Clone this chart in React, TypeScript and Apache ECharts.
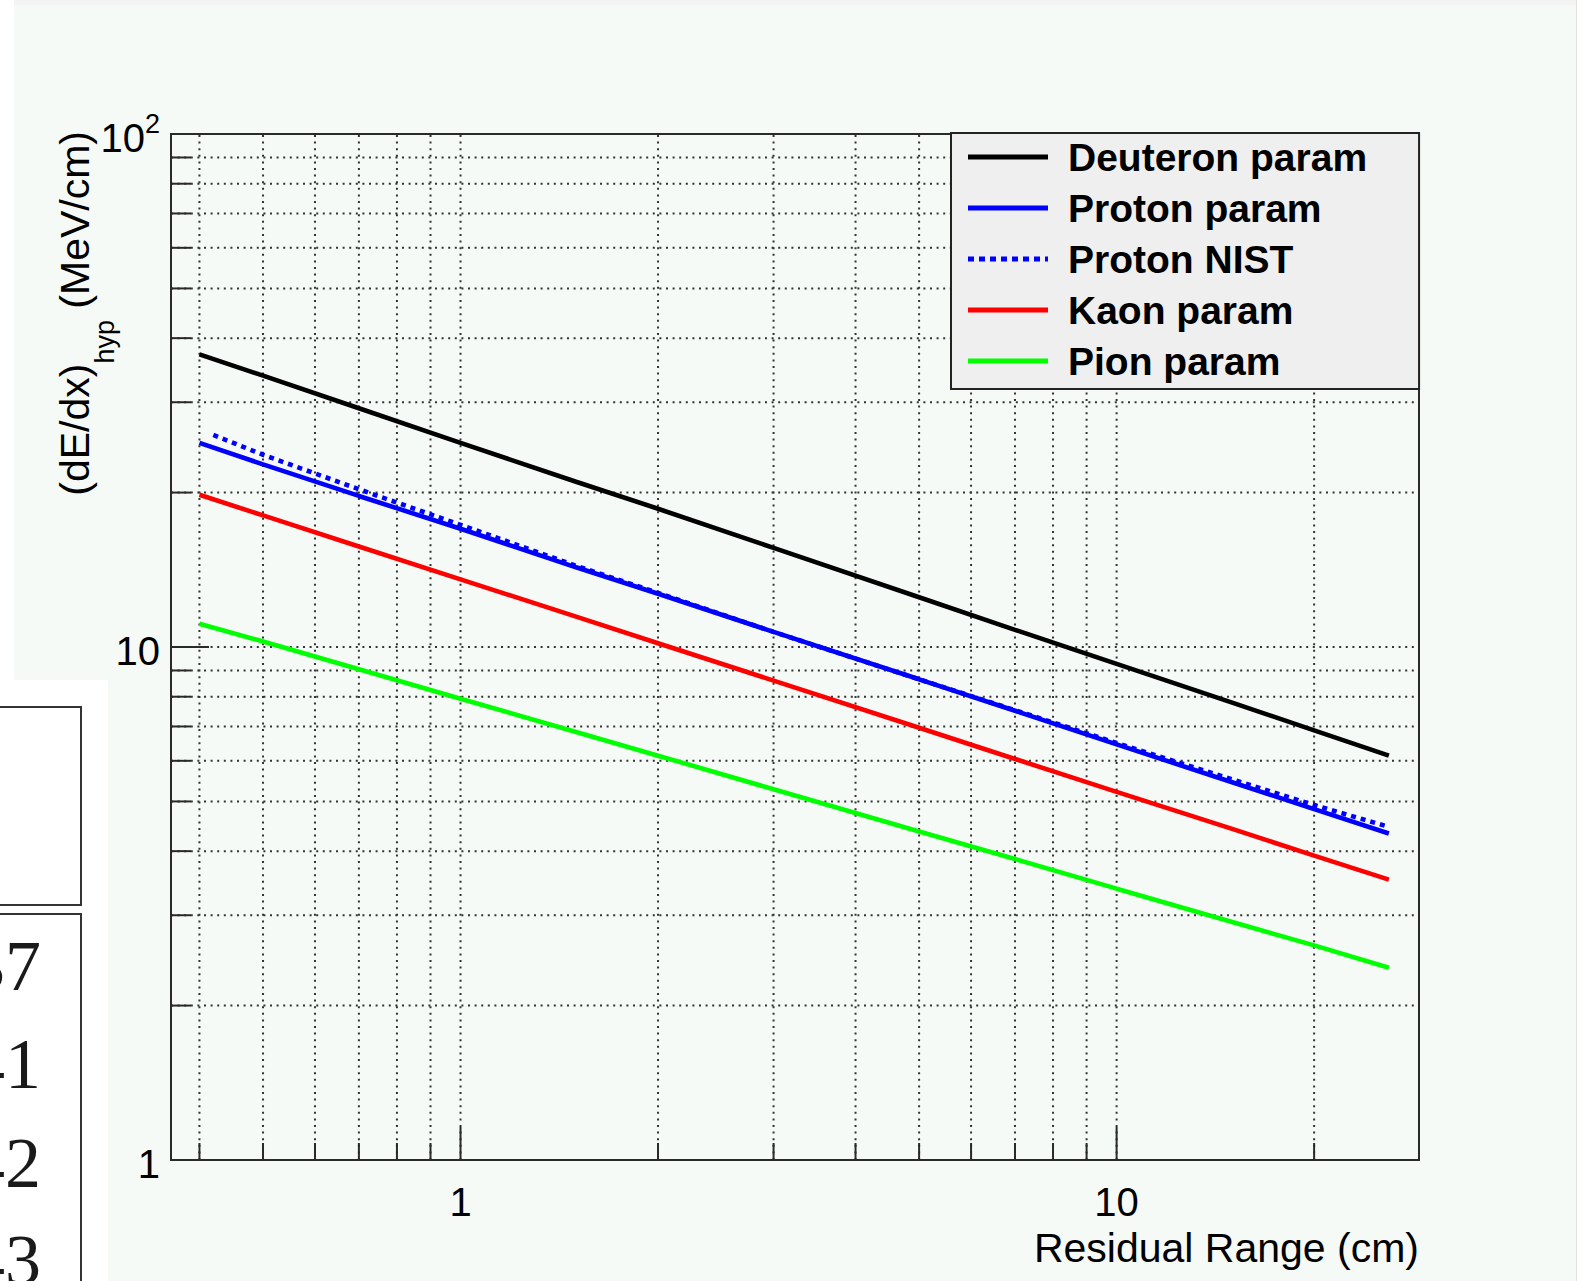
import React, { useEffect, useRef } from 'react';
import * as echarts from 'echarts';

const W = 1577;
const H = 1281;
const X_MIN = 0.362;
const X_MAX = 28.9;
const Y_MIN = 1;
const Y_MAX = 100;

// Residual range (cm) sample points
const rangeCm = [0.4, 0.5, 0.7, 1, 1.5, 2, 3, 5, 7, 10, 15, 20, 26];
const nistRangeCm = [0.42, 0.5, 0.7, 1, 1.5, 2, 3, 5, 7, 10, 15, 20, 26];

// (dE/dx)_hyp in MeV/cm
const deuteronParam = [37.2, 33.8, 29.2, 25.0, 21.0, 18.6, 15.6, 12.5, 10.8, 9.27, 7.79, 6.88, 6.14];
const protonParam = [25.0, 22.7, 19.7, 17.0, 14.3, 12.7, 10.7, 8.65, 7.51, 6.46, 5.45, 4.83, 4.33];
const protonNist = [25.9, 23.7, 20.3, 17.3, 14.4, 12.75, 10.7, 8.65, 7.53, 6.5, 5.52, 4.92, 4.46];
const kaonParam = [19.8, 18.05, 15.7, 13.55, 11.46, 10.17, 8.6, 6.96, 6.05, 5.22, 4.42, 3.92, 3.52];
const pionParam = [11.1, 10.25, 9.05, 7.93, 6.83, 6.14, 5.28, 4.37, 3.86, 3.38, 2.91, 2.62, 2.37];

const seriesNames = ['Deuteron param', 'Proton param', 'Proton NIST', 'Kaon param', 'Pion param'];

// grid / tick values
const xGridValues = [0.4, 0.5, 0.6, 0.7, 0.8, 0.9, 1, 2, 3, 4, 5, 6, 7, 8, 9, 10, 20];
const yGridValues = [2, 3, 4, 5, 6, 7, 8, 9, 10, 20, 30, 40, 50, 60, 70, 80, 90];
const xMajorValues = [1, 10];
const yMajorValues = [10];

// fragment of a neighbouring table visible at the left edge
const tableNumbers = ['37', '41', '42', '43'];
const tableNumberY = [966, 1064, 1163, 1260];

const FONT = 'Liberation Sans';

const SOLID_ICON = 'path://M0 0h80v5h-80z';
const DOTTED_ICON =
  'path://M0 0h6v5h-6z M11 0h6v5h-6z M22 0h6v5h-6z M33 0h6v5h-6z M44 0h6v5h-6z M55 0h6v5h-6z M66 0h6v5h-6z M77 0h3v5h-3z';

function pairs(xs: number[], ys: number[]) {
  return xs.map((x, i) => [x, ys[i]]);
}

function isPow10(v: number) {
  const l = Math.log10(v);
  return Math.abs(l - Math.round(l)) < 1e-6;
}

export default function App() {
  const ref = useRef<HTMLDivElement>(null);

  useEffect(() => {
    document.body.style.margin = '0';
    const chart = echarts.init(ref.current as HTMLDivElement, null, { renderer: 'svg' });

    const gridStyle = { stroke: '#333', lineWidth: 2, lineDash: [2, 4.6] };

    const xGridItem = (params: any, api: any) => {
      const v = api.value(0);
      const b = api.coord([v, Y_MIN]);
      const t = api.coord([v, Y_MAX]);
      const major = xMajorValues.indexOf(v) >= 0;
      return {
        type: 'group',
        children: [
          { type: 'line', shape: { x1: b[0], y1: b[1], x2: t[0], y2: t[1] }, style: gridStyle },
          {
            type: 'line',
            shape: { x1: b[0], y1: b[1], x2: b[0], y2: b[1] - (major ? 33 : 17) },
            style: { stroke: '#2a2a2a', lineWidth: 2 },
          },
        ],
      };
    };

    const yGridItem = (params: any, api: any) => {
      const v = api.value(1);
      const l = api.coord([X_MIN, v]);
      const r = api.coord([X_MAX, v]);
      const major = yMajorValues.indexOf(v) >= 0;
      return {
        type: 'group',
        children: [
          { type: 'line', shape: { x1: l[0], y1: l[1], x2: r[0], y2: r[1] }, style: gridStyle },
          {
            type: 'line',
            shape: { x1: l[0], y1: l[1], x2: l[0] + (major ? 38 : 20), y2: l[1] },
            style: { stroke: '#2a2a2a', lineWidth: 2 },
          },
        ],
      };
    };

    const lineSeries = (name: string, xs: number[], ys: number[], color: string, dashed = false) => ({
      name,
      type: 'line',
      data: pairs(xs, ys),
      showSymbol: false,
      symbol: 'none',
      z: 5,
      lineStyle: { color, width: 4.6, type: dashed ? [5, 5] : 'solid', cap: 'butt' },
      itemStyle: { color },
    });

    const legendData = seriesNames.map((n) => ({
      name: n,
      icon: n === 'Proton NIST' ? DOTTED_ICON : SOLID_ICON,
    }));

    const option: any = {
      animation: false,
      backgroundColor: '#f6faf7',
      grid: {
        left: 171,
        top: 134,
        right: W - 1419,
        bottom: H - 1160,
        show: true,
        borderColor: '#2a2a2a',
        borderWidth: 2,
        backgroundColor: 'transparent',
        containLabel: false,
      },
      xAxis: {
        type: 'log',
        logBase: 10,
        min: X_MIN,
        max: X_MAX,
        axisLine: { show: true, lineStyle: { color: '#2a2a2a', width: 2 } },
        axisTick: { show: false },
        splitLine: { show: false },
        minorTick: { show: false },
        axisLabel: {
          show: true,
          margin: 24,
          fontSize: 40,
          lineHeight: 36,
          fontFamily: FONT,
          color: '#000',
          showMinLabel: false,
          showMaxLabel: false,
          formatter: (v: number) => (isPow10(v) ? String(Math.round(v)) : ''),
        },
      },
      yAxis: {
        type: 'log',
        logBase: 10,
        min: Y_MIN,
        max: Y_MAX,
        axisLine: { show: true, lineStyle: { color: '#2a2a2a', width: 2 } },
        axisTick: { show: false },
        splitLine: { show: false },
        minorTick: { show: false },
        axisLabel: {
          show: true,
          margin: 11,
          color: '#000',
          formatter: (v: number) => {
            if (!isPow10(v)) return '';
            const e = Math.round(Math.log10(v));
            if (e >= 2) return '{b|10}{sup|' + e + '}';
            return '{b|' + Math.round(v) + '}';
          },
          rich: {
            b: { fontSize: 40, lineHeight: 48, fontFamily: FONT, color: '#000', verticalAlign: 'bottom' },
            sup: { fontSize: 27, lineHeight: 27, fontFamily: FONT, color: '#000', verticalAlign: 'top' },
          },
        },
      },
      legend: {
        show: true,
        orient: 'vertical',
        left: 951,
        top: 133,
        padding: [2, 52, 6, 17],
        itemWidth: 80,
        itemHeight: 5,
        itemGap: 7,
        symbolKeepAspect: false,
        selectedMode: false,
        backgroundColor: '#efefef',
        borderColor: '#222',
        borderWidth: 2,
        borderRadius: 0,
        data: legendData,
        textStyle: {
          fontFamily: FONT,
          fontWeight: 'bold',
          fontSize: 39,
          lineHeight: 44,
          color: '#000',
          padding: [0, 0, 0, 15],
        },
      },
      graphic: [
        { type: 'rect', silent: true, z: -10, shape: { x: 0, y: 0, width: W, height: 5 }, style: { fill: '#f2f3f2' } },
        { type: 'rect', silent: true, z: -10, shape: { x: 0, y: 0, width: 14, height: H }, style: { fill: '#ffffff' } },
        { type: 'rect', silent: true, z: -10, shape: { x: 0, y: 680, width: 108, height: H - 680 }, style: { fill: '#ffffff' } },
        { type: 'rect', silent: true, z: -10, shape: { x: W - 1, y: 0, width: 1, height: H }, style: { fill: '#dfe2df' } },
        {
          type: 'rect', silent: true,
          shape: { x: -10, y: 707, width: 91, height: 198 },
          style: { fill: 'none', stroke: '#333', lineWidth: 2 },
        },
        {
          type: 'rect', silent: true,
          shape: { x: -10, y: 914, width: 91, height: 420 },
          style: { fill: 'none', stroke: '#333', lineWidth: 2 },
        },
        ...tableNumbers.map((t, i) => ({
          type: 'text',
          silent: true,
          x: 41,
          y: tableNumberY[i],
          style: {
            text: t,
            fill: '#1a1a1a',
            fontSize: 72,
            fontFamily: 'Liberation Serif',
            align: 'right',
            verticalAlign: 'middle',
            textAlign: 'right',
            textVerticalAlign: 'middle',
          },
        })),
        {
          type: 'text',
          silent: true,
          x: 54,
          y: 131,
          rotation: Math.PI / 2,
          style: {
            text: '{m|(dE/dx)}{sub|hyp}{m| (MeV/cm)}',
            fill: '#000',
            align: 'right',
            verticalAlign: 'top',
            textAlign: 'right',
            textVerticalAlign: 'top',
            rich: {
              m: { fontSize: 41, lineHeight: 41, fontFamily: FONT, fill: '#000', verticalAlign: 'top' },
              sub: { fontSize: 27, lineHeight: 27, fontFamily: FONT, fill: '#000', verticalAlign: 'top', padding: [37, 0, 0, 0] },
            },
          },
        },
        {
          type: 'text',
          silent: true,
          x: 1419,
          y: 1248,
          style: {
            text: 'Residual Range (cm)',
            fill: '#000',
            fontSize: 41,
            lineHeight: 38,
            fontFamily: FONT,
            align: 'right',
            verticalAlign: 'middle',
            textAlign: 'right',
            textVerticalAlign: 'middle',
          },
        },
      ],
      series: [
        {
          name: 'xgrid',
          type: 'custom',
          silent: true,
          z: 1,
          renderItem: xGridItem,
          data: xGridValues.map((v) => [v, Y_MIN]),
        },
        {
          name: 'ygrid',
          type: 'custom',
          silent: true,
          z: 1,
          renderItem: yGridItem,
          data: yGridValues.map((v) => [X_MIN, v]),
        },
        lineSeries('Deuteron param', rangeCm, deuteronParam, '#000000'),
        lineSeries('Proton param', rangeCm, protonParam, '#0000ff'),
        lineSeries('Proton NIST', nistRangeCm, protonNist, '#0000ff', true),
        lineSeries('Kaon param', rangeCm, kaonParam, '#ff0000'),
        lineSeries('Pion param', rangeCm, pionParam, '#00ff00'),
      ],
    };

    chart.setOption(option);
    return () => {
      chart.dispose();
    };
  }, []);

  return <div ref={ref} style={{ width: W, height: H, position: 'absolute', left: 0, top: 0 }} />;
}
